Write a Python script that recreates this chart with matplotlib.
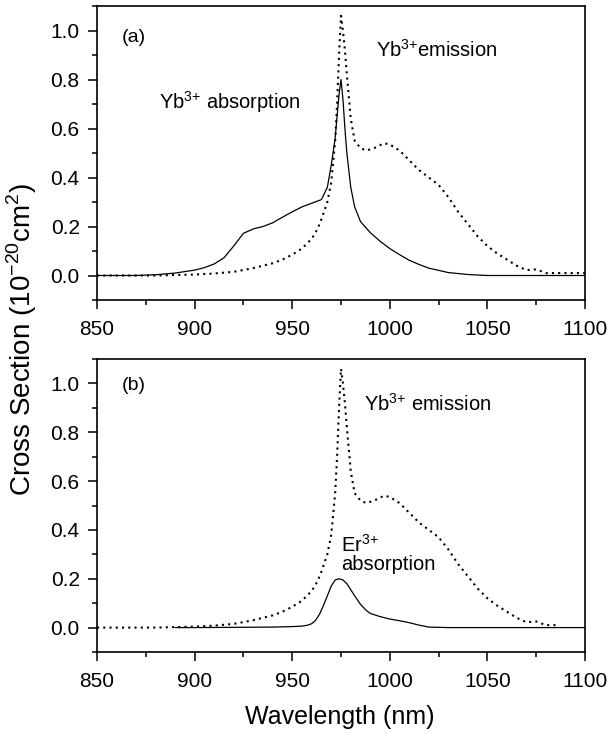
import numpy as np
import matplotlib
matplotlib.use("Agg")
import matplotlib.pyplot as plt
from matplotlib.ticker import MultipleLocator, FormatStrFormatter

plt.rcParams['font.family'] = ['Liberation Sans', 'DejaVu Sans']
plt.rcParams['mathtext.fontset'] = 'custom'
plt.rcParams['mathtext.rm'] = 'Liberation Sans'

# ---------------------------------------------------
# data (wavelength nm, cross section 1e-20 cm^2)
# ---------------------------------------------------
# (a) Yb3+ absorption, solid
yb_abs_wl = [850, 870, 880, 890, 900, 905, 910, 915, 920, 925, 930, 935, 940, 945, 950,
             955, 960, 965, 968, 970, 972, 973, 974, 975, 976, 977, 978, 980, 982, 985,
             990, 995, 1000, 1005, 1010, 1015, 1020, 1030, 1040, 1050, 1060, 1100]
yb_abs_cs = [0.0, 0.0, 0.003, 0.01, 0.022, 0.032, 0.047, 0.072, 0.12, 0.172, 0.19, 0.2,
             0.215, 0.238, 0.26, 0.28, 0.295, 0.31, 0.36, 0.45, 0.56, 0.65, 0.74, 0.8,
             0.72, 0.6, 0.5, 0.36, 0.28, 0.22, 0.175, 0.14, 0.11, 0.085, 0.062, 0.045,
             0.03, 0.012, 0.004, 0.0, 0.0, 0.0]

# Yb3+ emission, dotted (same curve in both panels)
yb_em_wl = [850, 880, 900, 910, 920, 930, 940, 945, 950, 955, 960, 963, 965, 968, 970,
            972, 973, 974, 975, 976, 977, 978, 980, 982, 985, 988, 992, 997, 1000, 1005,
            1010, 1015, 1020, 1025, 1030, 1035, 1040, 1045, 1050, 1055, 1060, 1065, 1070,
            1075, 1080, 1085]
yb_em_cs = [0.0, 0.0, 0.004, 0.008, 0.015, 0.03, 0.05, 0.065, 0.085, 0.11, 0.15, 0.19,
            0.23, 0.3, 0.38, 0.55, 0.7, 0.9, 1.06, 1.0, 0.92, 0.82, 0.64, 0.55, 0.52, 0.51,
            0.52, 0.54, 0.535, 0.51, 0.47, 0.43, 0.4, 0.37, 0.32, 0.26, 0.21, 0.16, 0.12,
            0.09, 0.065, 0.04, 0.022, 0.025, 0.01, 0.01]
# panel (a) emission tail continues flat to 1100
yb_em_tail_wl = [1090, 1100]
yb_em_tail_cs = [0.01, 0.01]

# (b) Er3+ absorption, solid
er_abs_wl = [890, 900, 920, 940, 950, 955, 958, 960, 962, 964, 966, 968, 970, 972, 974,
             976, 978, 980, 982, 985, 988, 990, 995, 1000, 1005, 1010, 1015, 1020, 1030,
             1100]
er_abs_cs = [0.0, 0.0, 0.001, 0.002, 0.004, 0.006, 0.01, 0.016, 0.03, 0.055, 0.09, 0.13,
             0.17, 0.195, 0.2, 0.195, 0.18, 0.155, 0.13, 0.095, 0.07, 0.058, 0.045, 0.035,
             0.028, 0.02, 0.01, 0.002, 0.0, 0.0]

W, H = 610, 734
fig = plt.figure(figsize=(W / 100, H / 100), dpi=100)
# axes boxes in pixels: left, top, right, bottom
ax1 = fig.add_axes([97 / W, 1 - 300 / H, 488 / W, 294 / H])
ax2 = fig.add_axes([97 / W, 1 - 652 / H, 488 / W, 293 / H])

dots = (0, (1, 2))
ax1.plot(yb_abs_wl, yb_abs_cs, color='black', lw=0.9)
ax1.plot(yb_em_wl + yb_em_tail_wl, yb_em_cs + yb_em_tail_cs, color='black',
         lw=1.5, linestyle=dots)
ax2.plot(er_abs_wl, er_abs_cs, color='black', lw=0.9)
ax2.plot(yb_em_wl, yb_em_cs, color='black', lw=1.5, linestyle=dots)

for ax in (ax1, ax2):
    ax.set_xlim(850, 1100)
    ax.set_ylim(-0.1, 1.1)
    ax.xaxis.set_major_locator(MultipleLocator(50))
    ax.xaxis.set_minor_locator(MultipleLocator(25))
    ax.set_yticks(np.arange(0, 1.01, 0.2))
    ax.yaxis.set_minor_locator(MultipleLocator(0.1))
    ax.yaxis.set_major_formatter(FormatStrFormatter('%.1f'))
    ax.tick_params(which='major', direction='out', length=6.5, width=1.1, labelsize=15)
    ax.tick_params(which='minor', direction='out', length=3.6, width=1.1)
    ax.tick_params(axis='x', which='major', pad=8)
    ax.tick_params(axis='y', which='major', pad=6)
    for s in ax.spines.values():
        s.set_linewidth(1.2)

ax1.text(869, 0.97, '(a)', fontsize=14, ha='center', va='center')
ax1.text(993, 0.92, 'Yb$^{3{+}}$emission', fontsize=14.5, ha='left', va='center')
ax1.text(882, 0.71, 'Yb$^{3{+}}$ absorption', fontsize=14.5, ha='left', va='center')

ax2.text(869, 0.99, '(b)', fontsize=14, ha='center', va='center')
ax2.text(987, 0.915, 'Yb$^{3{+}}$ emission', fontsize=14.5, ha='left', va='center')
ax2.text(975, 0.34, 'Er$^{3{+}}$', fontsize=14.5, ha='left', va='center')
ax2.text(975, 0.26, 'absorption', fontsize=14.5, ha='left', va='center')

fig.text(22 / W, 1 - 339 / H, 'Cross Section (10$^{-20}$cm$^{2}$)', fontsize=20,
         rotation=90, ha='center', va='center')
fig.text(340 / W, 1 - 717 / H, 'Wavelength (nm)', fontsize=18,
         ha='center', va='center')

fig.savefig('out.png', dpi=100)
